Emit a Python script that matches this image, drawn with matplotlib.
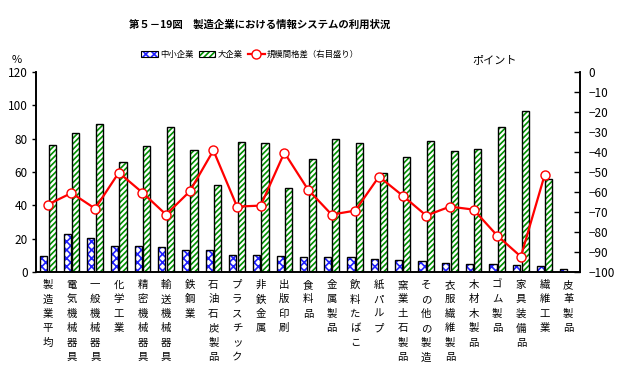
import matplotlib
matplotlib.use("Agg")
import matplotlib.pyplot as plt
from matplotlib.patches import Patch
from matplotlib.legend_handler import HandlerTuple
import numpy as np

plt.rcParams['font.family'] = ['Noto Sans CJK JP', 'DejaVu Sans']

categories = ["製造業平均", "電気機械器具", "一般機械器具", "化学工業", "精密機械器具",
              "輸送機械器具", "鉄鋼業", "石油石炭製品", "プラスチック", "非鉄金属",
              "出版印刷", "食料品", "金属製品", "飲料たばこ", "紙パルプ",
              "窯業土石製品", "その他の製造", "衣服繊維製品", "木材木製品", "ゴム製品",
              "家具装備品", "繊維工業", "皮革製品"]
small = [9.6, 23.0, 20.4, 15.6, 15.6, 15.0, 13.2, 13.2, 10.2, 10.2, 9.6, 9.0,
         9.0, 9.0, 7.8, 7.2, 6.6, 5.4, 4.8, 4.8, 4.2, 3.6, 1.8]
large = [76.2, 83.4, 88.8, 66.0, 75.6, 87.0, 73.2, 52.2, 78.0, 77.4, 50.4, 67.8,
         79.8, 77.4, 59.4, 69.0, 78.6, 72.6, 73.8, 87.0, 96.6, 55.8, np.nan]
gap = [-66.3, -60.5, -68.3, -50.3, -60.3, -71.3, -59.7, -39.2, -67.3, -66.8, -40.3, -58.8,
       -71.3, -69.3, -52.3, -61.8, -71.8, -67.3, -68.8, -81.8, -92.3, -51.7, np.nan]

fig = plt.figure(figsize=(6.22, 3.79), dpi=100)
ax = fig.add_axes([36/622, 1-272/379, (580-36)/622, 200/379])
ax2 = ax.twinx()

x = np.arange(len(categories))
w = 0.3
plt.rcParams['hatch.linewidth'] = 1.2
blue = '#2020ff'
green = '#009000'
ax.bar(x - 0.18, small, w, facecolor='white', edgecolor=blue, hatch='xxxx', linewidth=0)
ax.bar(x - 0.18, small, w, facecolor='none', edgecolor='black', linewidth=1.0)
lg = np.nan_to_num(large)
ax.bar(x + 0.18, lg, w, facecolor='white', edgecolor=green, hatch='//////', linewidth=0)
ax.bar(x + 0.18, lg, w, facecolor='none', edgecolor='black', linewidth=1.0)

ln, = ax2.plot(x, gap, color='#ff0000', lw=1.6, marker='o', ms=6.5,
               markerfacecolor='white', markeredgecolor='#ff0000', markeredgewidth=1.0)

ax.set_xlim(-0.5, len(categories) - 0.5)
ax.set_ylim(0, 120)
ax.set_yticks(range(0, 121, 20))
ax2.set_ylim(-100, 0)
ax2.set_yticks(range(-100, 1, 10))
ax2.set_yticklabels([str(v).replace('-', '\u2212') for v in range(-100, 1, 10)])

for a in (ax, ax2):
    a.spines['top'].set_visible(False)
    a.set_facecolor('none')
ax.set_xticks([])
ax.tick_params(axis='y', direction='out', length=3, width=1, labelsize=8.5, pad=3)
ax2.tick_params(axis='y', direction='in', length=4, width=1, labelsize=8.5, pad=6)
for s in ('left', 'right', 'bottom'):
    ax.spines[s].set_linewidth(1.2)
    ax2.spines[s].set_linewidth(1.2)

for i, c in enumerate(categories):
    ax.text(i, -0.04, "\n".join(c), transform=ax.get_xaxis_transform(),
            ha='center', va='top', fontsize=7.5, linespacing=1.55)

fig.text(260/622, 1-25/379, "第５－19図　製造企業における情報システムの利用状況",
         ha='center', va='center', fontsize=7.5, fontweight='bold')
fig.text(17/622, 1-60/379, "%", ha='center', va='center', fontsize=8)
fig.text(495/622, 1-60/379, "ポイント", ha='center', va='center', fontsize=8)

h1 = (Patch(facecolor='white', edgecolor=blue, hatch='xxxx', linewidth=0),
      Patch(facecolor='none', edgecolor='black', linewidth=0.8))
h2 = (Patch(facecolor='white', edgecolor=green, hatch='//////', linewidth=0),
      Patch(facecolor='none', edgecolor='black', linewidth=0.8))
leg = fig.legend([h1, h2, ln], ["中小企業", "大企業", "規模間格差（右目盛り）"],
                 handler_map={tuple: HandlerTuple(ndivide=1, pad=0)},
                 loc='center', bbox_to_anchor=(250/622, 1-54/379), ncol=3, frameon=False,
                 fontsize=6.0, handlelength=2.0, handleheight=0.7, columnspacing=0.6,
                 handletextpad=0.3)

fig.savefig("out.png", dpi=100)
